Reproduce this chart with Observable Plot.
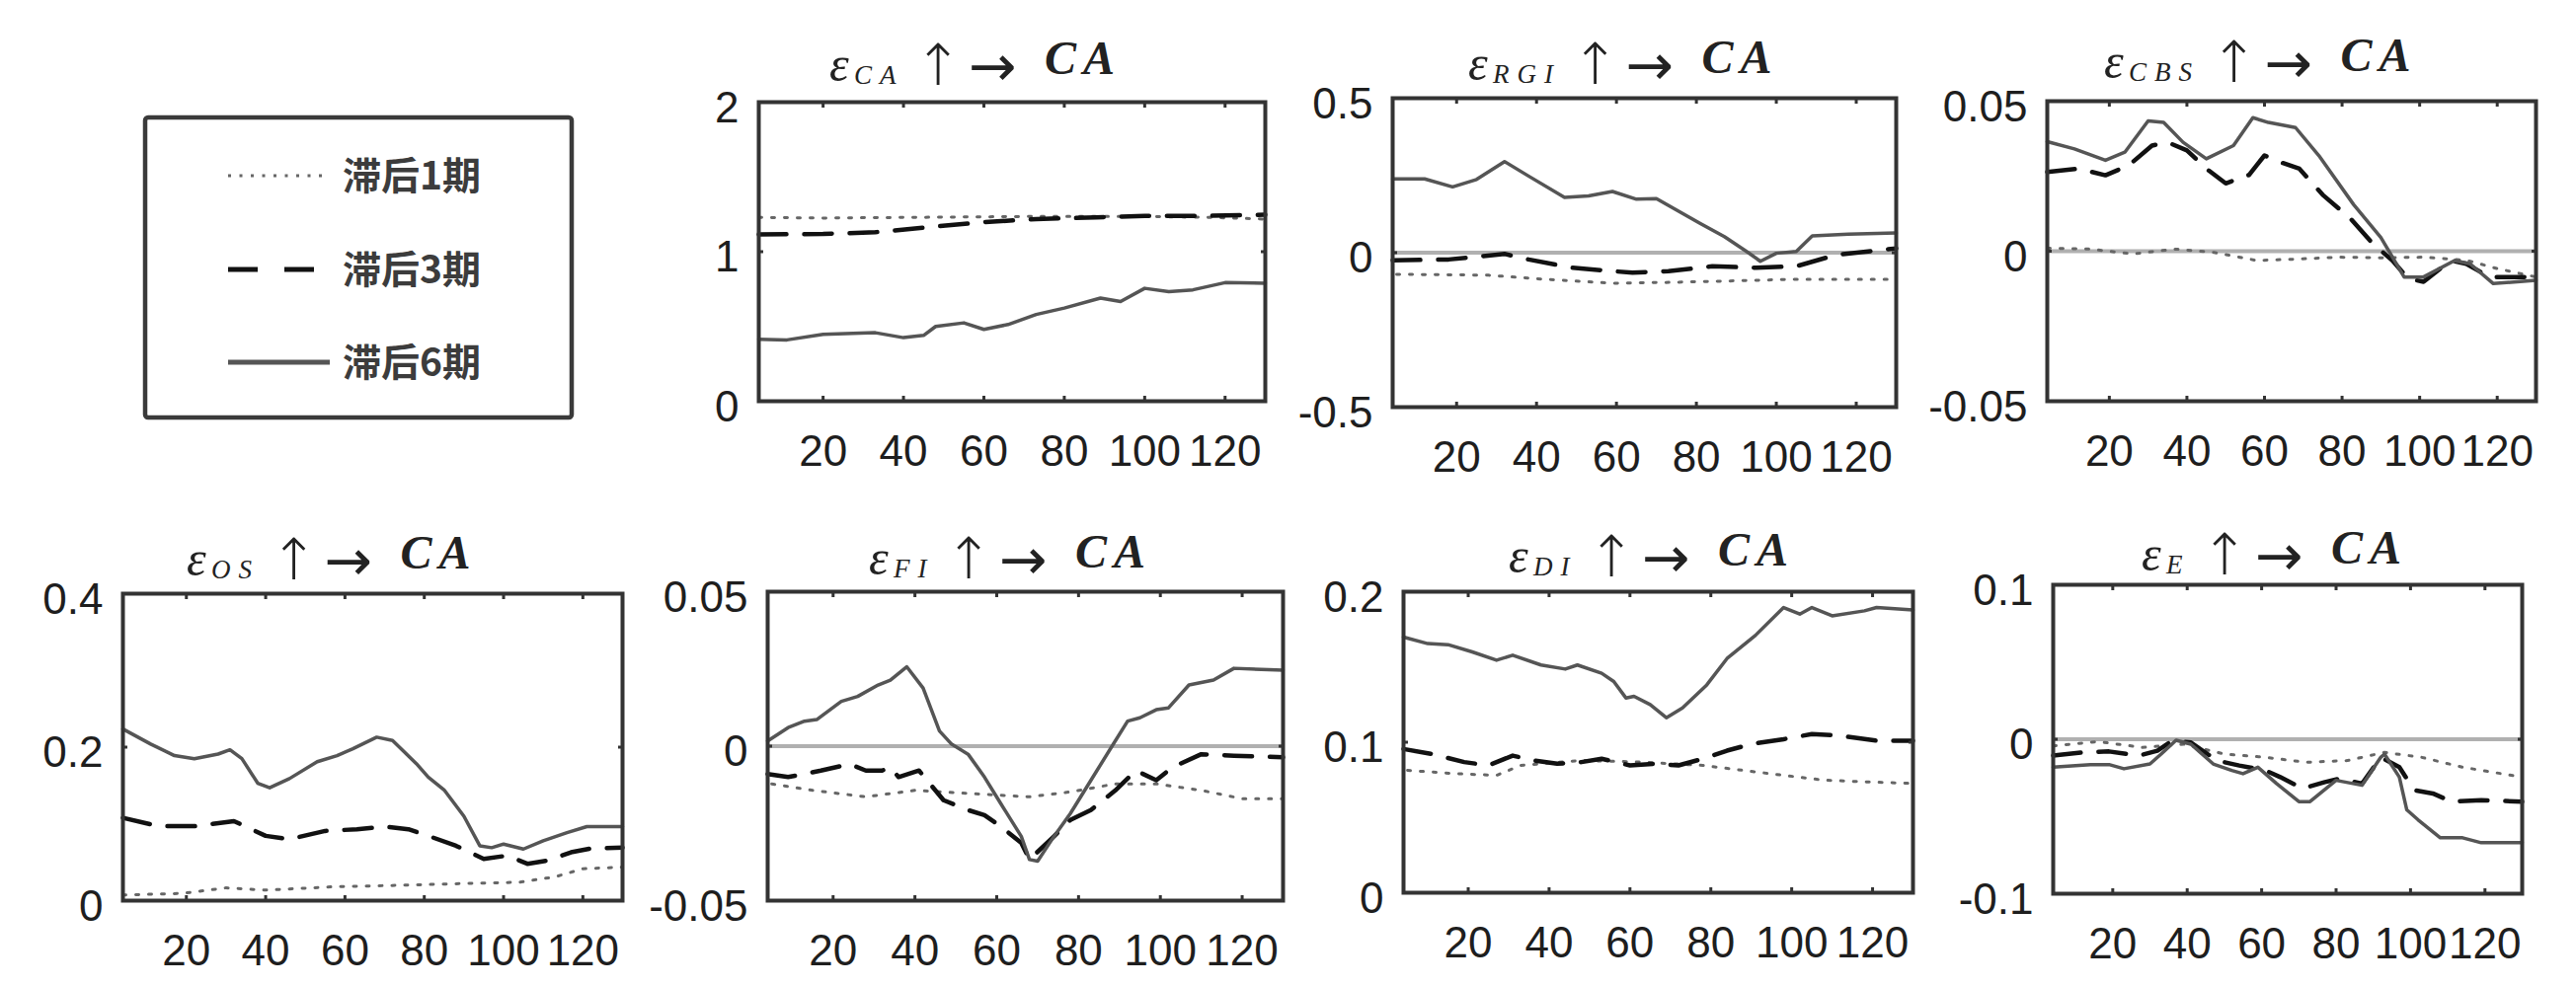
<!DOCTYPE html>
<html><head><meta charset="utf-8">
<script src="https://cdn.jsdelivr.net/npm/d3@7"></script>
<script src="https://cdn.jsdelivr.net/npm/@observablehq/plot@0.6"></script>
<style>
body{margin:0;background:#fff;}
#root{position:relative;width:2609px;height:999px;overflow:hidden;background:#fff;}
#root svg{position:absolute;}
</style></head><body><div id="root"></div>
<script>
// ---------- data ----------
const lagLabels = ["滞后1期", "滞后3期", "滞后6期"];
const xTicks = [20, 40, 60, 80, 100, 120];
const xDomain = [4, 130];

const caLag1 = [[4,1.229],[20,1.225],[40,1.229],[60,1.233],[73,1.236],[100,1.236],[117,1.229],[130,1.218]];
const caLag3 = [[4,1.115],[20,1.119],[33,1.13],[46,1.163],[59,1.196],[73,1.218],[88,1.229],[100,1.24],[114,1.24],[130,1.247]];
const caLag6 = [[4,0.414],[11,0.41],[20,0.447],[33,0.458],[40,0.425],[45,0.44],[48,0.50],[55,0.524],[60,0.48],[66,0.513],[73,0.58],[80,0.623],[89,0.69],[94,0.667],[100,0.755],[106,0.733],[112,0.745],[120,0.793],[130,0.789]];

const rgiLag1 = [[5,-0.07],[28,-0.073],[42,-0.086],[59,-0.099],[74,-0.096],[90,-0.091],[105,-0.086],[130,-0.086]];
const rgiLag3 = [[4,-0.025],[18,-0.022],[32,-0.004],[38,-0.022],[49,-0.049],[64,-0.065],[73,-0.06],[84,-0.044],[95,-0.049],[105,-0.044],[115,-0.007],[130,0.014]];
const rgiLag6 = [[4,0.239],[12,0.239],[19,0.213],[25,0.237],[32,0.295],[38,0.248],[47,0.179],[53,0.184],[59,0.198],[65,0.173],[70,0.175],[81,0.094],[87,0.052],[93,0.0],[96,-0.028],[100,-0.002],[105,0.004],[109,0.054],[118,0.06],[130,0.064]];

const cbsLag1 = [[4,0.001],[15,0.0007],[26,-0.0009],[37,0.0007],[47,-0.0004],[58,-0.0031],[69,-0.0026],[79,-0.002],[90,-0.0022],[101,-0.002],[112,-0.003],[120,-0.0058],[130,-0.0086]];
const cbsLag3 = [[4,0.0264],[12,0.0275],[19,0.0253],[25,0.0286],[31,0.0352],[35,0.0363],[40,0.0336],[45,0.0275],[50,0.0226],[56,0.0254],[60,0.0319],[64,0.0297],[69,0.0275],[75,0.0188],[82,0.0111],[88,0.0024],[93,-0.0031],[97,-0.0091],[101,-0.0102],[108,-0.0031],[112,-0.0042],[118,-0.0086],[130,-0.0086]];
const cbsLag6 = [[4,0.0365],[11,0.0341],[19,0.0303],[24,0.033],[30,0.0434],[34,0.0429],[39,0.0363],[45,0.0308],[52,0.0352],[57,0.0445],[61,0.0429],[68,0.0412],[74,0.0319],[83,0.0155],[90,0.0046],[96,-0.0086],[101,-0.0086],[109,-0.0031],[113,-0.0042],[119,-0.0108],[130,-0.0097]];

const osLag1 = [[4,0.0073],[19,0.0094],[30,0.0167],[40,0.0137],[57,0.018],[74,0.02],[88,0.022],[104,0.024],[113,0.031],[120,0.0415],[130,0.0437]];
const osLag3 = [[4,0.1079],[13,0.097],[22,0.097],[32,0.1036],[40,0.0844],[46,0.08],[55,0.0908],[63,0.093],[70,0.0964],[76,0.093],[81,0.0844],[88,0.0715],[95,0.0544],[101,0.0587],[106,0.048],[111,0.0522],[117,0.063],[122,0.068],[130,0.069]];
const osLag6 = [[4,0.2236],[11,0.204],[17,0.189],[22,0.185],[28,0.191],[31,0.1966],[34,0.185],[38,0.153],[41,0.147],[46,0.159],[53,0.181],[58,0.189],[62,0.198],[68,0.213],[72,0.2086],[78,0.1786],[81,0.161],[85,0.1443],[90,0.11],[94,0.0715],[97,0.069],[100,0.0737],[105,0.0672],[110,0.078],[116,0.0886],[121,0.0964],[130,0.0964]];

const fiLag1 = [[5,-0.0122],[15,-0.0143],[28,-0.0164],[40,-0.0143],[53,-0.0153],[68,-0.0164],[78,-0.0148],[89,-0.0122],[99,-0.0122],[110,-0.0143],[120,-0.017],[130,-0.017]];
const fiLag3 = [[4,-0.009],[9,-0.01],[17,-0.0079],[24,-0.0058],[28,-0.0079],[32,-0.0079],[34,-0.0068],[36,-0.01],[41,-0.0079],[47,-0.0175],[53,-0.0207],[57,-0.0223],[61,-0.026],[66,-0.0313],[68,-0.0367],[74,-0.0292],[78,-0.0239],[83,-0.0207],[89,-0.0143],[94,-0.0079],[99,-0.011],[103,-0.0068],[110,-0.0026],[118,-0.0031],[130,-0.0036]];
const fiLag6 = [[4,0.0017],[9,0.006],[13,0.0081],[16,0.0086],[22,0.0145],[26,0.0161],[31,0.0198],[34,0.0214],[38,0.0257],[42,0.0188],[46,0.0049],[49,0.0006],[53,-0.0026],[57,-0.01],[61,-0.0186],[66,-0.0292],[68,-0.0367],[70,-0.0372],[74,-0.0292],[78,-0.0218],[83,-0.0111],[88,-0.0004],[92,0.0081],[95,0.0092],[99,0.0118],[102,0.0124],[107,0.0198],[113,0.0214],[118,0.0252],[130,0.0246]];

const diLag1 = [[5,0.0813],[17,0.0791],[27,0.078],[33,0.0846],[48,0.0879],[63,0.0868],[78,0.0846],[88,0.0813],[98,0.078],[108,0.0748],[118,0.0737],[130,0.0726]];
const diLag3 = [[4,0.0955],[11,0.0922],[19,0.0868],[25,0.0846],[31,0.0911],[36,0.0879],[42,0.0857],[48,0.0868],[53,0.089],[60,0.0846],[66,0.0857],[72,0.0846],[78,0.089],[84,0.0944],[90,0.0988],[98,0.102],[105,0.1054],[112,0.1043],[121,0.101],[130,0.101]];
const diLag6 = [[4,0.1698],[10,0.1655],[15,0.1648],[21,0.16],[27,0.1545],[31,0.1578],[38,0.1513],[44,0.1486],[47,0.1513],[53,0.1458],[56,0.1403],[59,0.1294],[61,0.1305],[65,0.125],[69,0.1163],[73,0.1228],[79,0.1381],[84,0.1556],[91,0.1709],[98,0.1895],[102,0.1851],[105,0.1895],[110,0.184],[118,0.1873],[121,0.1895],[130,0.1878]];

const eLag1 = [[4,-0.0043],[16,-0.0015],[28,-0.0053],[39,-0.0032],[50,-0.0096],[61,-0.0117],[72,-0.0149],[83,-0.0138],[93,-0.0085],[103,-0.0117],[114,-0.0181],[130,-0.0245]];
const eLag3 = [[4,-0.0106],[12,-0.0085],[19,-0.0079],[27,-0.0106],[32,-0.0074],[36,-0.001],[41,-0.0021],[48,-0.0138],[54,-0.017],[61,-0.0202],[65,-0.0245],[71,-0.0319],[77,-0.0277],[81,-0.0255],[87,-0.0287],[92,-0.0117],[97,-0.0181],[101,-0.033],[106,-0.0351],[111,-0.0404],[119,-0.0394],[130,-0.0404]];
const eLag6 = [[4,-0.0181],[14,-0.0164],[19,-0.0164],[23,-0.0191],[30,-0.016],[33,-0.0096],[37,-0.0006],[41,-0.0032],[47,-0.016],[52,-0.0202],[55,-0.0223],[59,-0.0181],[64,-0.0287],[70,-0.0404],[73,-0.0404],[80,-0.0266],[87,-0.0298],[92,-0.0117],[93,-0.0096],[97,-0.0245],[99,-0.0457],[102,-0.0521],[108,-0.0638],[114,-0.0638],[119,-0.067],[130,-0.067]];

const panelNames = ["CA", "RGI", "CBS", "OS", "FI", "DI", "E"];
const yDomains = [[0,2],[-0.5,0.5],[-0.05,0.05],[0,0.4],[-0.05,0.05],[0,0.2],[-0.1,0.1]];
const yTickSets = [[0,1,2],[-0.5,0,0.5],[-0.05,0,0.05],[0,0.2,0.4],[-0.05,0,0.05],[0,0.1,0.2],[-0.1,0,0.1]];
const seriesByPanel = [
  [caLag1, caLag3, caLag6], [rgiLag1, rgiLag3, rgiLag6], [cbsLag1, cbsLag3, cbsLag6],
  [osLag1, osLag3, osLag6], [fiLag1, fiLag3, fiLag6], [diLag1, diLag3, diLag6], [eLag1, eLag3, eLag6]
];

// ---------- layout (pixel frames) ----------
const frames = [
  {l:768, t:103, r:1281, b:406},
  {l:1410, t:99, r:1920, b:412},
  {l:2073, t:102, r:2568, b:406},
  {l:124, t:601, r:630, b:912},
  {l:777, t:599, r:1299, b:912},
  {l:1421, t:599, r:1937, b:904},
  {l:2079, t:592, r:2554, b:905}
];
const titlePos = [[840,82],[1487,81],[2131,79],[189,583],[880,582],[1528,580],[2169,578]];
const lineStyles = [
  {stroke:"#666", strokeWidth:3, strokeDasharray:"3,10"},
  {stroke:"#111", strokeWidth:4.5, strokeDasharray:"28,18"},
  {stroke:"#555", strokeWidth:3.5}
];

const root = document.getElementById("root");
const overlay = d3.select(root).append("svg")
  .attr("width", 2609).attr("height", 999).style("left", "0px").style("top", "0px");

const mL = 140, mR = 16, mT = 16, mB = 100;
const axisColor = "#333";
const sans = "'Liberation Sans', Arial, sans-serif";
const serif = "'Liberation Serif','DejaVu Serif',serif";
const arrowFont = "'DejaVu Sans', sans-serif";

function subText(x, y, s) {
  return overlay.append("text").attr("x", x).attr("y", y).attr("font-family", serif)
    .attr("font-size", 27).attr("font-style", "italic").attr("letter-spacing", 8).attr("fill", "#222").text(s);
}
const refSub = subText(0, -100, "CA");
const refSubLen = refSub.node().getComputedTextLength();
refSub.remove();

panelNames.forEach((name, i) => {
  const f = frames[i];
  const w = f.r - f.l, h = f.b - f.t;
  const yd = yDomains[i];
  const hasZero = yd[0] < 0 && yd[1] > 0;
  const [s1, s3, s6] = seriesByPanel[i];
  const chart = Plot.plot({
    width: w + mL + mR, height: h + mT + mB,
    marginLeft: mL, marginRight: mR, marginTop: mT, marginBottom: mB,
    style: {background: "transparent", overflow: "visible"},
    x: {domain: xDomain},
    y: {domain: yd},
    marks: [
      hasZero ? Plot.ruleY([0], {stroke: "#b0b0b0", strokeWidth: 4}) : null,
      Plot.line(s1, {x: d => d[0], y: d => d[1], ...lineStyles[0]}),
      Plot.line(s3, {x: d => d[0], y: d => d[1], ...lineStyles[1]}),
      Plot.line(s6, {x: d => d[0], y: d => d[1], ...lineStyles[2]}),
      Plot.axisX({anchor: "bottom", ticks: xTicks, tickSize: 0, tickPadding: 34, fontSize: 44,
        fontFamily: sans, fill: "#1e1e1e", tickFormat: d => String(d), label: null}),
      Plot.axisX({anchor: "bottom", ticks: xTicks, tickSize: -5, fill: "none", stroke: axisColor, strokeWidth: 3, label: null}),
      Plot.axisX({anchor: "top", ticks: xTicks, tickSize: -5, fill: "none", stroke: axisColor, strokeWidth: 3, label: null}),
      Plot.axisY({anchor: "left", ticks: yTickSets[i], tickSize: 0, tickPadding: 20, fontSize: 44, dy: 6,
        fontFamily: sans, fill: "#1e1e1e", tickFormat: d => String(d), label: null}),
      Plot.axisY({anchor: "left", ticks: yTickSets[i], tickSize: -5, fill: "none", stroke: axisColor, strokeWidth: 3, label: null}),
      Plot.axisY({anchor: "right", ticks: yTickSets[i], tickSize: -5, fill: "none", stroke: axisColor, strokeWidth: 3, label: null}),
      Plot.frame({stroke: axisColor, strokeWidth: 4})
    ]
  });
  chart.style.left = (f.l - mL) + "px";
  chart.style.top = (f.t - mT) + "px";
  root.appendChild(chart);

  // title  ε_name ↑→ CA
  const [tx, ty] = titlePos[i];
  overlay.append("text").attr("x", tx).attr("y", ty).attr("font-family", serif)
    .attr("font-size", 50).attr("font-style", "italic").attr("fill", "#222").text("ε");
  const sub = subText(tx + 25, ty + 3, name);
  const shift = sub.node().getComputedTextLength() - refSubLen;
  overlay.append("text").attr("x", tx + 110 + shift).attr("y", ty - 16).attr("font-family", arrowFont)
    .attr("font-size", 58).attr("text-anchor", "middle").attr("dominant-baseline", "central")
    .attr("font-weight", 300).attr("fill", "#222").text("↑");
  overlay.append("text").attr("x", tx + 165 + shift).attr("y", ty - 15).attr("font-family", arrowFont)
    .attr("font-size", 58).attr("text-anchor", "middle").attr("dominant-baseline", "central")
    .attr("fill", "#222").text("→");
  overlay.append("text").attr("x", tx + 218 + shift).attr("y", ty - 7).attr("font-family", serif)
    .attr("font-size", 48).attr("font-style", "italic").attr("font-weight", 700)
    .attr("letter-spacing", 7).attr("fill", "#222").text("CA");
});

// legend
const lg = overlay.append("g");
lg.append("rect").attr("x", 147).attr("y", 119).attr("width", 432).attr("height", 304)
  .attr("rx", 3).attr("fill", "none").attr("stroke", "#3a3a3a").attr("stroke-width", 4.5);
const legendRows = [178, 273, 367];
const legendEnds = [333, 321, 334];
lagLabels.forEach((lab, i) => {
  const st = lineStyles[i];
  lg.append("line").attr("x1", 231).attr("x2", legendEnds[i]).attr("y1", legendRows[i]).attr("y2", legendRows[i])
    .attr("stroke", st.stroke).attr("stroke-width", i === 0 ? 3 : 5)
    .attr("stroke-dasharray", i === 0 ? "3,8.5" : i === 1 ? "30,27" : null);
  lg.append("text").attr("x", 347).attr("y", legendRows[i] + 14).attr("font-size", 39)
    .attr("font-family", "'Noto Sans CJK SC','Noto Sans',sans-serif").attr("font-weight", 700)
    .attr("fill", "#3c3c3c").text(lab);
});
</script></body></html>
